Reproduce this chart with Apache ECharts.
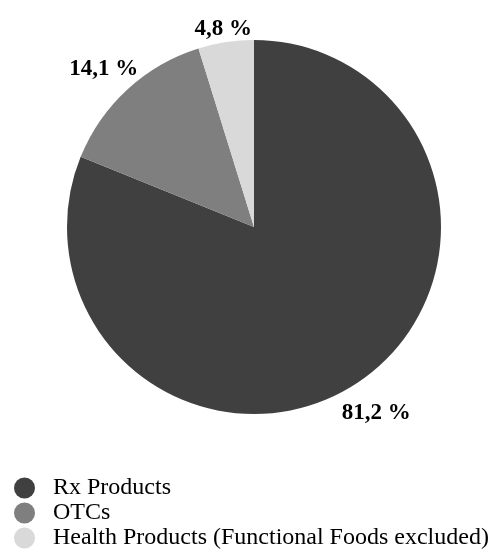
<!DOCTYPE html>
<html>
<head>
<meta charset="utf-8">
<script src="https://cdn.jsdelivr.net/npm/echarts@6/dist/echarts.min.js"></script>
<style>
html,body{margin:0;padding:0;background:#fff;}
#main{width:492px;height:550px;}
</style>
</head>
<body>
<div id="main"></div>
<script>
const categories = ['Rx Products', 'OTCs', 'Health Products (Functional Foods excluded)'];
const values = [81.2, 14.1, 4.8];
const labelTexts = ['81,2 %', '14,1 %', '4,8 %'];
const colors = ['#404040', '#7f7f7f', '#d9d9d9'];

const CX = 254, CY = 227, R = 187, GAP = 3, DY = 5;
const total = values.reduce((a, b) => a + b, 0);

function midAngle(i) {
  let before = 0;
  for (let k = 0; k < i; k++) before += values[k];
  return 2 * Math.PI * (before + values[i] / 2) / total;
}

const chart = echarts.init(document.getElementById('main'), null, {renderer: 'canvas'});
chart.setOption({
  animation: false,
  color: colors,
  legend: {
    orient: 'vertical',
    left: 14,
    top: 476,
    padding: 0,
    itemGap: 1,
    itemWidth: 21,
    itemHeight: 21,
    icon: 'circle',
    data: categories,
    textStyle: {
      fontFamily: 'Liberation Serif',
      fontSize: 24,
      lineHeight: 24,
      color: '#000',
      padding: [0, 0, 0, 13]
    }
  },
  series: [{
    type: 'pie',
    center: [CX, CY],
    radius: R,
    startAngle: 90,
    clockwise: true,
    data: categories.map((c, i) => ({name: c, value: values[i]})),
    itemStyle: {borderWidth: 0},
    emphasis: {disabled: true},
    label: {
      show: true,
      position: 'outside',
      formatter: p => labelTexts[p.dataIndex],
      fontFamily: 'Liberation Serif',
      fontWeight: 'bold',
      fontSize: 23,
      lineHeight: 23,
      color: '#000'
    },
    labelLine: {show: false},
    labelLayout: function (params) {
      const i = params.dataIndex;
      const th = midAngle(i);
      const ux = Math.sin(th), uy = -Math.cos(th);
      const w = params.labelRect.width, h = params.labelRect.height;
      const d = R + GAP + Math.abs(ux) * w / 2 + Math.abs(uy) * h / 2;
      return {x: CX + d * ux, y: CY + d * uy + DY, align: 'center', verticalAlign: 'middle'};
    }
  }]
});
</script>
</body>
</html>
